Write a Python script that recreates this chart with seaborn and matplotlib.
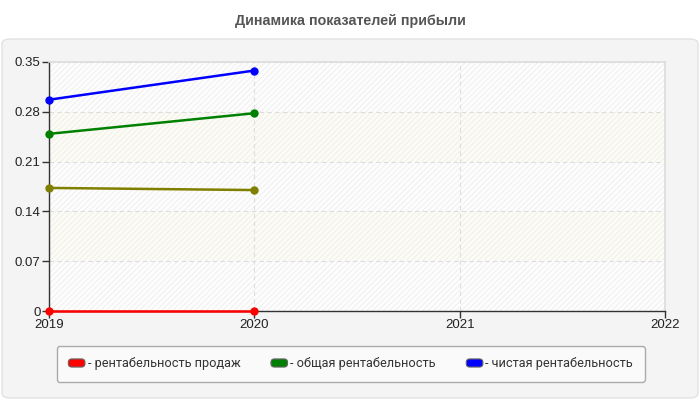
import matplotlib
matplotlib.use("Agg")
import matplotlib.pyplot as plt
import pandas as pd
import seaborn as sns
from matplotlib.patches import FancyBboxPatch, Patch, Rectangle
from matplotlib.legend_handler import HandlerPatch

years = [2019, 2020]
sales_margin = [0.0, 0.0]
total_margin = [0.249, 0.278]
net_margin = [0.297, 0.338]
other_margin = [0.173, 0.170]

series_names = ["рентабельность продаж", "общая рентабельность", "чистая рентабельность", "прочее"]
series_colors = ["#ff0000", "#008000", "#0000ff", "#808000"]
legend_series = series_names[:3]

x_ticks = [2019, 2020, 2021, 2022]
y_ticks = [0, 0.07, 0.14, 0.21, 0.28, 0.35]
y_tick_labels = ["0", "0.07", "0.14", "0.21", "0.28", "0.35"]
title = "Динамика показателей прибыли"

df = pd.DataFrame({
    "year": years * 4,
    "value": sales_margin + total_margin + net_margin + other_margin,
    "series": [n for n in series_names for _ in years],
})

sns.set_theme(style="white")
plt.rcParams["font.family"] = ["Liberation Sans", "DejaVu Sans"]
plt.rcParams["hatch.linewidth"] = 0.6

fig = plt.figure(figsize=(7, 4), dpi=100)
fig.patch.set_facecolor("white")

# grey panel behind the chart
panel = FancyBboxPatch((2 / 700, 2 / 400), 696 / 700, 359 / 400,
                       boxstyle="round,pad=0,rounding_size=0.012",
                       transform=fig.transFigure, facecolor="#f4f4f4",
                       edgecolor="#e2e2e2", linewidth=1, zorder=-10)
fig.patches.append(panel)

fig.text(0.5, 1 - 20.5 / 400, title, ha="center", va="center",
         fontsize=10.3, fontweight="bold", color="#555555")

ax = fig.add_axes([49 / 700, 89 / 400, 616 / 700, 249 / 400])
ax.set_facecolor("#fdfdfd")

# faint bands and hatch like the original
ax.axhspan(0.07, 0.14, color="#fcfcf4", zorder=0, lw=0)
ax.axhspan(0.21, 0.28, color="#fcfcf4", zorder=0, lw=0)
ax.add_patch(Rectangle((0, 0), 1, 1, transform=ax.transAxes, facecolor="none",
                       edgecolor="#ededed", hatch="//////", lw=0, zorder=0.5))

sns.lineplot(data=df, x="year", y="value", hue="series", hue_order=series_names,
             palette=series_colors, marker="o", markersize=6, markeredgewidth=0,
             linewidth=1.8, legend=False, ax=ax, zorder=3, clip_on=False)

ax.set_xlim(2019, 2022)
ax.set_ylim(0, 0.35)
ax.set_xticks(x_ticks)
ax.set_xticklabels([str(t) for t in x_ticks])
ax.set_yticks(y_ticks)
ax.set_yticklabels(y_tick_labels)
ax.set_xlabel("")
ax.set_ylabel("")
ax.tick_params(axis="both", direction="out", length=5, width=1, color="#333333",
               labelsize=9.5, labelcolor="#222222", pad=1,
               bottom=True, left=True)

ax.grid(True, color="#dddddd", linestyle=(0, (4, 3)), linewidth=0.8)
ax.set_axisbelow(True)
for side in ["top", "right"]:
    ax.spines[side].set_color("#dddddd")
for side in ["left", "bottom"]:
    ax.spines[side].set_color("#333333")
    ax.spines[side].set_linewidth(1)


def rounded_handle(legend, orig_handle, xdescent, ydescent, width, height, fontsize):
    return FancyBboxPatch((-xdescent, -ydescent), width, height,
                          boxstyle="round,pad=0,rounding_size=2.5")


handles = [Patch(facecolor=c, edgecolor="#666666", linewidth=0.8)
           for c in series_colors[:3]]
labels = ["- " + n for n in legend_series]
leg = fig.legend(handles, labels, loc="center", bbox_to_anchor=(0.501, 1 - 364 / 400),
                 ncol=3, frameon=True, fancybox=True, facecolor="#fafafa",
                 edgecolor="#aaaaaa", framealpha=1, handlelength=1.3, handleheight=0.6,
                 handletextpad=0.2, columnspacing=2.4, borderpad=0.9,
                 prop={"family": ["Roboto", "DejaVu Sans"], "size": 9.2},
                 handler_map={Patch: HandlerPatch(patch_func=rounded_handle)})
for t in leg.get_texts():
    t.set_color("#333333")
leg.get_frame().set_linewidth(1)

fig.savefig("out.png", dpi=100)
